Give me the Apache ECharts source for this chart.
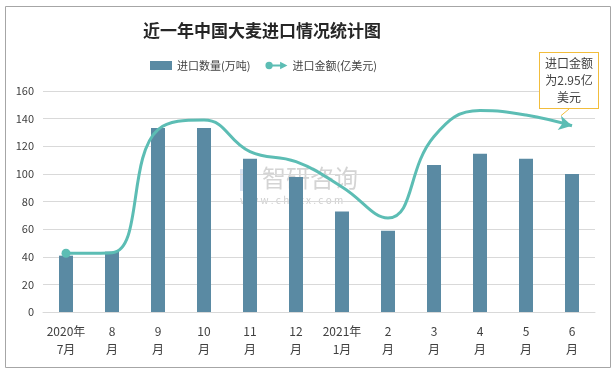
<!DOCTYPE html>
<html>
<head>
<meta charset="utf-8">
<script src="https://cdn.jsdelivr.net/npm/echarts@6/dist/echarts.min.js"></script>
<style>
  html, body { margin: 0; padding: 0; background: #fff; }
  #chart { width: 616px; height: 375px; }
</style>
</head>
<body>
<div id="chart"></div>
<script>
// 月份
const months = ['2020年\n7月', '8\n月', '9\n月', '10\n月', '11\n月', '12\n月',
    '2021年\n1月', '2\n月', '3\n月', '4\n月', '5\n月', '6\n月'];
// 进口数量(万吨)
const qtyData = [40.8, 43.7, 133.3, 133.3, 110.9, 97.8, 72.7, 58.9, 106.5, 114.5, 110.9, 100];
// 进口金额(亿美元)
const amountData = [0.93, 0.94, 2.89, 3.04, 2.54, 2.38, 1.98, 1.49, 2.78, 3.19, 3.12, 2.95];

const barColor = '#5a8aa3';
const lineColor = '#5cbdb4';
const fontFamily = '"Noto Sans CJK SC", "Noto Sans", sans-serif';

const lastIdx = amountData.length - 1;
const lineData = amountData.map((v, i) => {
    if (i === 0) {
        return { value: v, symbol: 'circle', symbolSize: 9 };
    }
    if (i === lastIdx) {
        return {
            value: v,
            symbol: 'arrow',
            symbolSize: [11, 13],
            symbolRotate: -103,
            label: {
                show: true,
                formatter: '进口金额\n为2.95亿\n美元'
            }
        };
    }
    return { value: v, symbol: 'none' };
});

const option = {
    animation: false,
    textStyle: { fontFamily: fontFamily },
    graphic: [
        {
            type: 'rect',
            shape: { x: 5.5, y: 6.5, width: 605, height: 361 },
            style: { fill: 'none', stroke: '#a6a6a6', lineWidth: 1 },
            silent: true
        },
        // 水印
        {
            type: 'rect',
            shape: { x: 240, y: 169, width: 17, height: 22 },
            style: { fill: 'rgba(150,175,215,0.35)' },
            silent: true
        },
        {
            type: 'text',
            left: 262, top: 166,
            style: { text: '智研咨询', font: '24px ' + fontFamily, fill: 'rgba(160,160,160,0.45)' },
            silent: true
        },
        {
            type: 'text',
            left: 240, top: 195,
            style: { text: 'w w w . c h y x x . c o m', font: '10px ' + fontFamily, fill: 'rgba(160,160,160,0.5)' },
            silent: true
        }
    ],
    title: {
        text: '近一年中国大麦进口情况统计图',
        left: 138,
        top: 17,
        textStyle: { fontSize: 17, fontWeight: 'bold', color: '#262626', fontFamily: fontFamily }
    },
    legend: {
        top: 55,
        left: 145,
        itemGap: 15,
        itemWidth: 22,
        itemHeight: 9,
        textStyle: { fontSize: 11, color: '#404040' },
        data: [
            { name: '进口数量(万吨)', icon: 'rect' },
            {
                name: '进口金额(亿美元)',
                icon: 'path://M0,5 A4,4 0 1,1 8,5 A4,4 0 1,1 0,5 Z M6,3.8 L17,3.8 L17,6.2 L6,6.2 Z M16,1 L24,5 L16,9 Z'
            }
        ]
    },
    grid: { left: 43, right: 21, top: 91, bottom: 63 },
    xAxis: {
        type: 'category',
        data: months,
        axisTick: { show: false },
        axisLine: { lineStyle: { color: '#d9d9d9' } },
        axisLabel: { color: '#404040', fontSize: 12, lineHeight: 18, margin: 10, interval: 0 }
    },
    yAxis: [
        {
            type: 'value',
            min: 0,
            max: 160,
            interval: 20,
            axisLine: { show: false },
            axisTick: { show: false },
            axisLabel: { color: '#404040', fontSize: 11, margin: 9 },
            splitLine: { lineStyle: { color: '#d9d9d9' } }
        },
        {
            type: 'value',
            min: 0,
            max: 3.5,
            show: false,
            splitLine: { show: false }
        }
    ],
    series: [
        {
            name: '进口数量(万吨)',
            type: 'bar',
            data: qtyData,
            barWidth: 14,
            itemStyle: { color: barColor }
        },
        {
            name: '进口金额(亿美元)',
            type: 'line',
            yAxisIndex: 1,
            smooth: 0.45,
            data: lineData,
            itemStyle: { color: lineColor },
            lineStyle: { color: lineColor, width: 3 },
            label: {
                show: false,
                color: '#404040',
                fontSize: 12,
                lineHeight: 17,
                align: 'center',
                padding: [2, 5],
                backgroundColor: '#fff',
                borderColor: '#f2bd3c',
                borderWidth: 1
            },
            labelLayout: function (params) {
                if (params.dataIndex !== lastIdx) return {};
                return { x: 569, y: 53, verticalAlign: 'top', align: 'center' };
            },
            labelLine: { show: true, lineStyle: { color: '#f2bd3c', width: 1 } }
        }
    ]
};

const chart = echarts.init(document.getElementById('chart'));
chart.setOption(option);
</script>
</body>
</html>
